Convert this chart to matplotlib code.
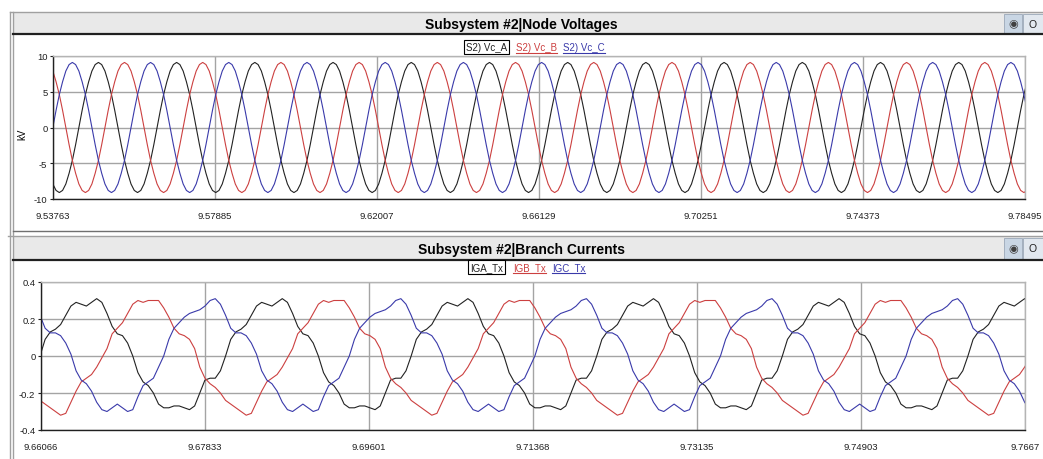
import numpy as np
import matplotlib.pyplot as plt
from matplotlib.patches import Rectangle
from matplotlib.lines import Line2D

plt.rcParams['font.family'] = ['Liberation Sans', 'DejaVu Sans']
plt.rcParams['axes.unicode_minus'] = False

# ---- top panel: node voltages (kV) ----
v_title = 'Subsystem #2|Node Voltages'
v_names = ['S2) Vc_A', 'S2) Vc_B', 'S2) Vc_C']
v_xticks = [9.53763, 9.57885, 9.62007, 9.66129, 9.70251, 9.74373, 9.78495]
v_xticklabels = ['9.53763', '9.57885', '9.62007', '9.66129', '9.70251', '9.74373', '9.78495']
v_yticks = [-10, -5, 0, 5, 10]
v_t0 = 9.53758       # time of first sample
v_period = 0.0199    # one cycle, read from peak spacing
# one cycle, 24 samples
va_cycle = [-7.9, -8.8, -9.1, -8.8, -7.9, -6.4, -4.6, -2.4, 0.0, 2.4, 4.6, 6.4,
            7.9, 8.8, 9.1, 8.8, 7.9, 6.4, 4.6, 2.4, 0.0, -2.4, -4.6, -6.4]
vb_cycle = [7.9, 6.4, 4.6, 2.4, 0.0, -2.4, -4.6, -6.4, -7.9, -8.8, -9.1, -8.8,
            -7.9, -6.4, -4.6, -2.4, 0.0, 2.4, 4.6, 6.4, 7.9, 8.8, 9.1, 8.8]
vc_cycle = [0.0, 2.4, 4.6, 6.4, 7.9, 8.8, 9.1, 8.8, 7.9, 6.4, 4.6, 2.4,
            0.0, -2.4, -4.6, -6.4, -7.9, -8.8, -9.1, -8.8, -7.9, -6.4, -4.6, -2.4]

# ---- bottom panel: branch currents ----
i_title = 'Subsystem #2|Branch Currents'
i_names = ['IGA_Tx', 'IGB_Tx', 'IGC_Tx']
i_xticks = [9.66066, 9.67833, 9.69601, 9.71368, 9.73135, 9.74903, 9.7667]
i_xticklabels = ['9.66066', '9.67833', '9.69601', '9.71368', '9.73135', '9.74903', '9.7667']
i_yticks = [-0.4, -0.2, 0, 0.2, 0.4]
i_yticklabels = ['-0.4', '-0.2', '0', '0.2', '0.4']
i_t0 = 9.66055
i_period = 0.02
# one cycle, 36 samples
ia_cycle = [0.00, 0.09, 0.13, 0.145, 0.17, 0.22, 0.27, 0.29, 0.28, 0.27, 0.29, 0.31,
            0.29, 0.23, 0.16, 0.12, 0.11, 0.07, 0.00, -0.09, -0.14, -0.16, -0.20, -0.26,
            -0.28, -0.28, -0.27, -0.27, -0.28, -0.29, -0.27, -0.20, -0.13, -0.12, -0.12, -0.08]
ib_cycle = [-0.24, -0.26, -0.28, -0.30, -0.32, -0.31, -0.25, -0.19, -0.14, -0.12, -0.10, -0.06,
            -0.01, 0.04, 0.12, 0.15, 0.18, 0.23, 0.28, 0.30, 0.29, 0.30, 0.30, 0.30,
            0.26, 0.21, 0.15, 0.12, 0.11, 0.09, 0.04, -0.06, -0.12, -0.15, -0.17, -0.20]
ic_cycle = [0.22, 0.15, 0.125, 0.125, 0.11, 0.07, 0.01, -0.08, -0.13, -0.15, -0.19, -0.25,
            -0.29, -0.30, -0.28, -0.26, -0.28, -0.30, -0.29, -0.22, -0.16, -0.14, -0.12, -0.06,
            0.00, 0.09, 0.15, 0.18, 0.21, 0.23, 0.24, 0.25, 0.27, 0.30, 0.31, 0.28]

colors = ['#222222', '#cc4040', '#3a3aaa']

W, H = 1043, 460
fig = plt.figure(figsize=(W / 100, H / 100), dpi=100)
fig.patch.set_facecolor('white')


def fx(x):
    return x / W


def fy(y):
    return 1 - y / H


def rect(x0, y0, x1, y1, **kw):
    fig.add_artist(Rectangle((fx(x0), fy(y1)), fx(x1 - x0), (y1 - y0) / H,
                             transform=fig.transFigure, **kw))


def hline(x0, x1, y, **kw):
    fig.add_artist(Line2D([fx(x0), fx(x1)], [fy(y), fy(y)], transform=fig.transFigure, **kw))


def vline(x, y0, y1, **kw):
    fig.add_artist(Line2D([fx(x), fx(x)], [fy(y0), fy(y1)], transform=fig.transFigure, **kw))


def periodic(t0, period, cycle, t_end):
    n = len(cycle)
    reps = int(np.ceil((t_end - t0) / period)) + 1
    t = t0 + np.arange(n * reps) * period / n
    return t, np.tile(cycle, reps)


# window frame, title bars, buttons
hline(10, W, 13, color='#a0a0a0', lw=1)
vline(10, 13, H, color='#a0a0a0', lw=1)
vline(12.5, 13, H, color='#a0a0a0', lw=1)
for ytop, ybot in [(14, 35), (238, 261)]:
    rect(13, ytop, W, ybot, fc='#e9e9e9', ec='none')
    hline(13, W, ybot, color='#202020', lw=1.6)
    rect(1004, ytop + 1, 1022, ybot - 1, fc='#c9d6e4', ec='#9aa8b8', lw=0.6)
    rect(1023, ytop + 1, W, ybot - 1, fc='#e2e8ef', ec='#9aa8b8', lw=0.6)
    fig.text(fx(1013), fy((ytop + ybot) / 2), '\u25c9', color='#404040', fontsize=8,
             ha='center', va='center', family='DejaVu Sans')
    fig.text(fx(1033), fy((ytop + ybot) / 2), 'O', color='#202020', fontsize=7.5,
             ha='center', va='center')
hline(13, W, 232, color='#707070', lw=1)
hline(8, W, 237, color='#a0a0a0', lw=1)

fig.text(fx(521), fy(25), v_title, fontsize=10, fontweight='bold', ha='center', va='center')
fig.text(fx(521), fy(250), i_title, fontsize=10, fontweight='bold', ha='center', va='center')


def style_axes(ax):
    ax.set_facecolor('white')
    ax.grid(True, color='#a4a4a4', lw=1.0)
    ax.set_axisbelow(True)
    for s in ['left', 'bottom']:
        ax.spines[s].set_color('#202020')
        ax.spines[s].set_linewidth(1.0)
    for s in ['top', 'right']:
        ax.spines[s].set_color('#b4b4b4')
        ax.spines[s].set_linewidth(1.0)
    ax.tick_params(axis='x', length=0, pad=9, labelsize=6.8, colors='#202020')
    ax.tick_params(axis='y', length=2, pad=2, labelsize=6.8, colors='#202020')


# top axes
ax1 = fig.add_axes([fx(53), fy(200), fx(1025 - 53), (200 - 57) / H])
for cyc, c in zip([va_cycle, vb_cycle, vc_cycle], colors):
    t, v = periodic(v_t0, v_period, cyc, v_xticks[-1])
    ax1.plot(t, v, color=c, lw=0.8)
ax1.set_xlim(v_xticks[0], v_xticks[-1])
ax1.set_ylim(-10, 10)
ax1.set_xticks(v_xticks)
ax1.set_xticklabels(v_xticklabels)
ax1.set_yticks(v_yticks)
style_axes(ax1)
fig.text(fx(22), fy(134), 'kV', rotation=90, fontsize=7, ha='center', va='center')

# bottom axes
ax2 = fig.add_axes([fx(41), fy(431), fx(1025 - 41), (431 - 283) / H])
for cyc, c in zip([ia_cycle, ib_cycle, ic_cycle], colors):
    t, v = periodic(i_t0, i_period, cyc, i_xticks[-1])
    ax2.plot(t, v, color=c, lw=0.8)
ax2.set_xlim(i_xticks[0], i_xticks[-1])
ax2.set_ylim(-0.4, 0.4)
ax2.set_xticks(i_xticks)
ax2.set_xticklabels(i_xticklabels)
ax2.set_yticks(i_yticks)
ax2.set_yticklabels(i_yticklabels)
style_axes(ax2)


# legends: first entry boxed, the others underlined
def legend_row(names, xs, y):
    renderer = fig.canvas.get_renderer()
    for k, (name, c, x) in enumerate(zip(names, colors, xs)):
        kw = {}
        if k == 0:
            kw['bbox'] = dict(boxstyle='square,pad=0.18', fc='white', ec='black', lw=0.8)
        txt = fig.text(fx(x), fy(y), name, color=c, fontsize=7, ha='left', va='center', **kw)
        if k > 0:
            bb = txt.get_window_extent(renderer)
            fig.add_artist(Line2D([bb.x0 / W, bb.x1 / W], [(bb.y0 - 0.5) / H] * 2,
                                  transform=fig.transFigure, color=c, lw=0.8))


legend_row(v_names, [466, 516, 563], 48)
legend_row(i_names, [470, 513, 552], 268)

plt.savefig('out.png', dpi=100)
